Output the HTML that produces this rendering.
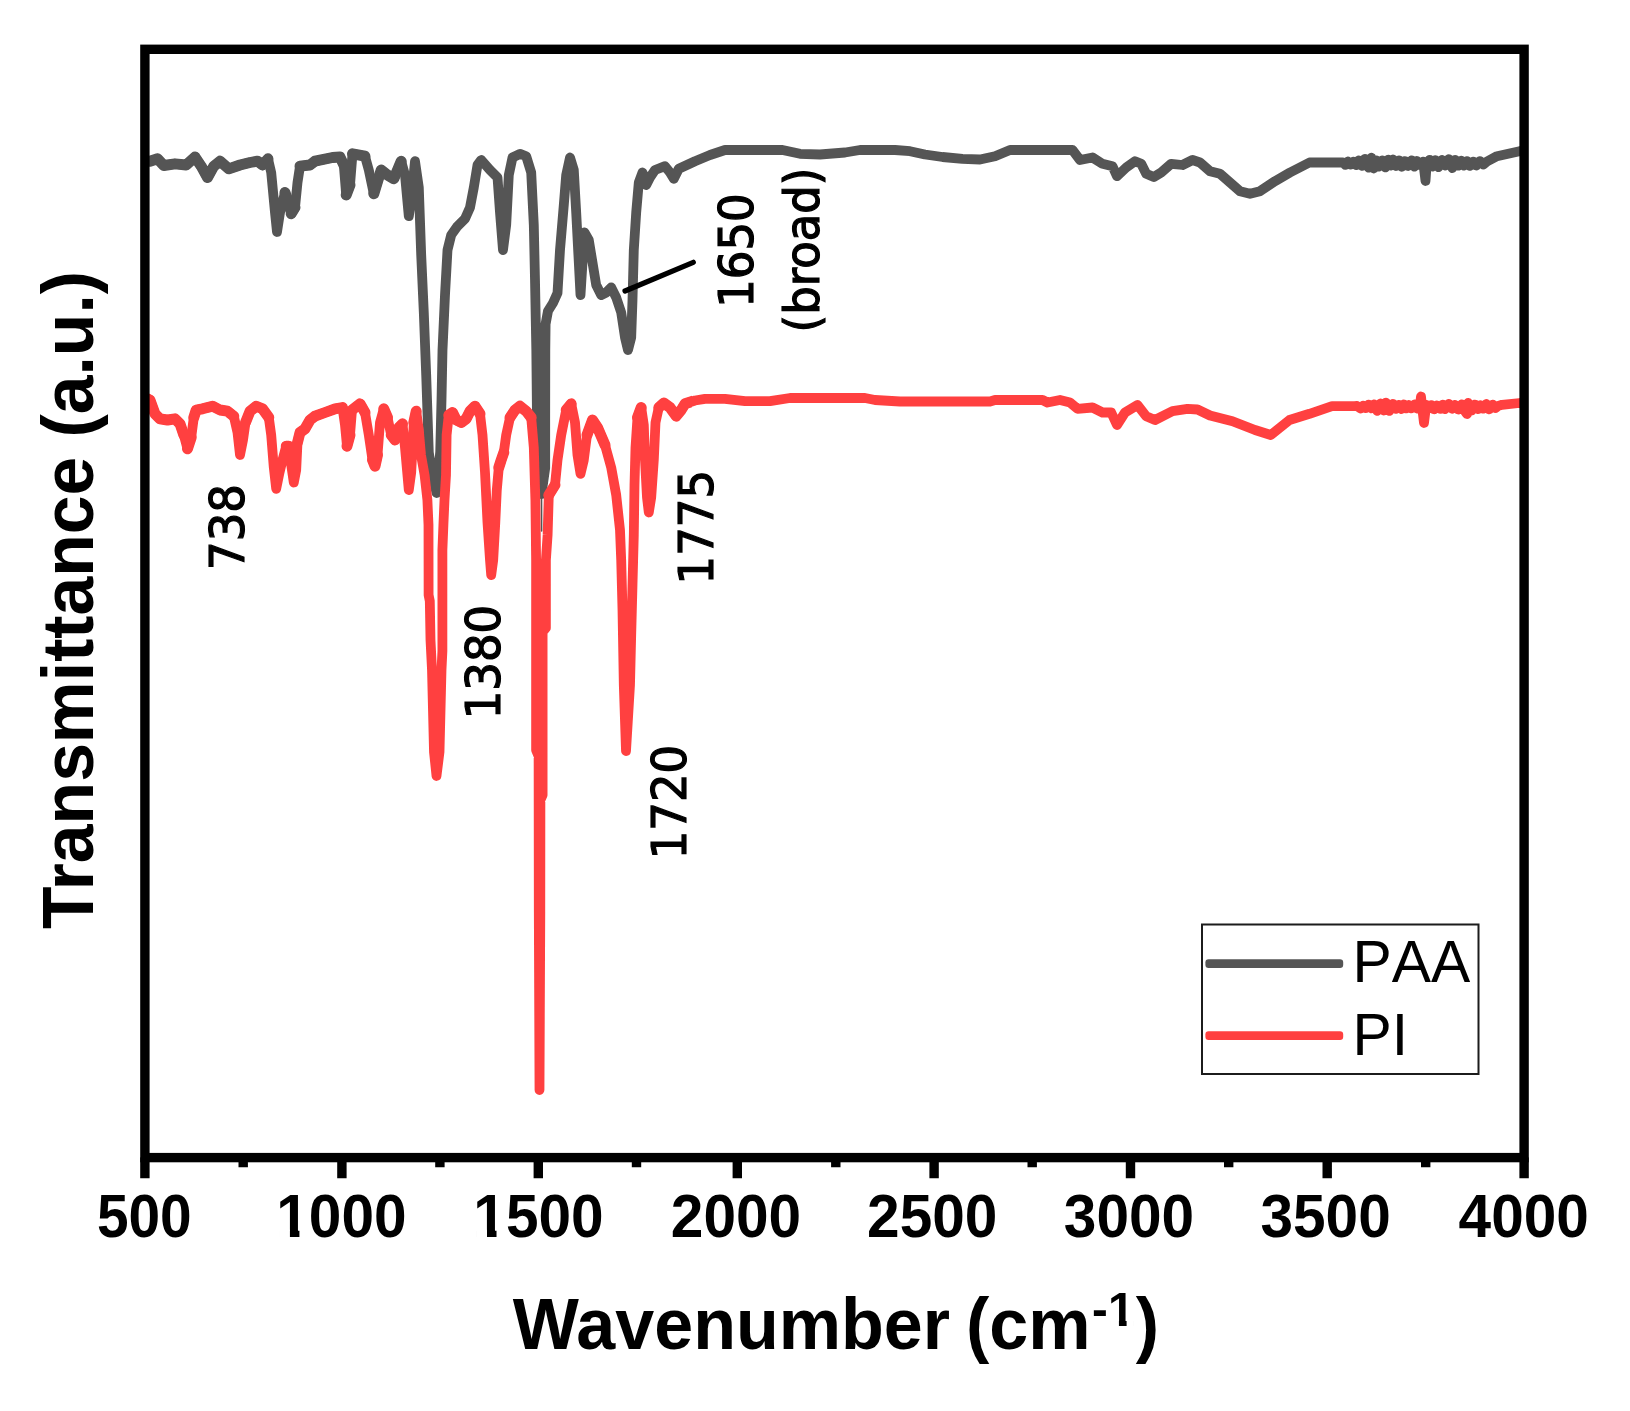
<!DOCTYPE html>
<html><head><meta charset="utf-8"><title>FTIR</title>
<style>html,body{margin:0;padding:0;background:#fff}svg{display:block}.b{font-family:"Liberation Sans",sans-serif;font-weight:bold;fill:#000}.r{font-family:"Liberation Sans",sans-serif;fill:#000}.d{font-family:"DejaVu Sans Condensed","DejaVu Sans",sans-serif;font-stretch:condensed;fill:#000;stroke:#000;stroke-width:1.15px}</style></head><body>
<svg width="1630" height="1411" viewBox="0 0 1630 1411">
<rect width="1630" height="1411" fill="#fff"/>
<defs><filter id="soft" x="0" y="0" width="1630" height="1411" filterUnits="userSpaceOnUse"><feGaussianBlur stdDeviation="0.6"/></filter></defs>
<g filter="url(#soft)">
<rect width="1630" height="1411" fill="#fff"/>
<defs><clipPath id="c3"><rect x="144.9" y="49.3" width="279.1" height="1108.3"/></clipPath></defs>
<defs><clipPath id="c2"><rect x="144.9" y="49.3" width="547.1" height="1108.3"/></clipPath></defs>
<defs><clipPath id="c"><rect x="144.9" y="49.3" width="1379.2" height="1108.3"/></clipPath></defs>
<g clip-path="url(#c)" fill="none" stroke-linejoin="round" stroke-linecap="round">
<polyline stroke="#555555" stroke-width="9.8" points="140.0,161.0 150.0,161.2 157.5,158.8 163.8,165.5 175.0,163.8 186.2,165.0 195.0,157.0 201.2,166.2 207.5,177.5 213.8,166.2 220.0,161.2 228.8,168.8 240.0,165.0 250.0,162.5 257.5,161.2 262.5,165.0 268.0,158.8 271.2,172.5 275.0,212.5 277.0,232.0 280.0,212.5 285.0,192.5 287.5,200.0 291.2,213.8 295.0,207.5 297.5,182.5 300.0,166.2 310.0,165.0 315.0,161.2 332.5,157.5 340.0,157.0 343.8,165.0 346.2,195.0 350.0,185.0 352.5,153.8 365.0,156.2 368.8,170.0 373.8,193.8 378.8,177.5 381.2,170.0 387.5,175.0 393.8,178.8 401.2,161.2 405.0,175.0 408.8,216.2 411.2,200.0 415.0,161.2 418.8,187.5 421.2,255.0 423.8,312.5 426.2,375.0 428.8,452.5 431.5,470.0 436.5,493.0 440.2,452.0 441.5,400.0 442.5,350.0 445.0,295.0 447.5,250.0 451.2,235.0 457.5,226.2 465.0,218.8 470.0,207.5 473.8,187.5 477.5,165.0 481.2,160.0 490.0,170.0 497.5,177.5 500.0,212.5 503.0,250.0 506.2,225.0 508.8,175.0 512.5,157.5 520.0,153.8 526.2,156.2 531.2,172.5 533.8,225.0 535.0,280.0 536.3,350.0 537.0,420.0 537.6,468.0 541.5,494.0 545.2,468.0 545.2,420.0 545.3,350.0 545.6,324.0 548.0,311.0 553.0,303.0 557.5,293.0 560.0,250.0 563.8,205.0 566.2,175.0 570.0,157.5 573.8,170.0 576.2,212.5 578.8,262.5 580.5,295.0 582.5,262.5 584.5,232.5 588.8,240.0 592.5,262.5 596.2,285.0 601.2,295.0 606.2,292.5 611.2,287.5 616.2,297.5 621.2,312.5 625.0,337.5 628.0,350.0 631.2,337.5 632.5,300.0 633.8,250.0 636.2,212.5 638.8,182.5 642.5,172.5 646.2,185.0 650.0,177.5 655.0,170.0 665.0,166.2 670.0,172.5 673.8,178.8 678.8,168.8 695.0,161.2 710.0,155.0 725.0,150.0 745.0,150.0 782.5,150.0 800.0,153.8 820.0,154.5 845.0,152.5 860.0,150.0 895.0,150.0 910.0,151.2 925.0,154.5 942.5,157.0 962.5,158.8 980.0,159.5 995.0,156.2 1010.0,150.0 1072.5,150.0 1080.0,160.0 1092.5,157.5 1102.5,163.8 1112.5,166.2 1117.0,176.2 1126.2,167.5 1135.0,161.2 1141.2,163.8 1146.2,173.8 1153.8,177.0 1161.2,172.5 1171.2,163.8 1182.5,165.0 1192.5,160.0 1200.0,162.5 1210.0,171.2 1220.0,173.8 1230.0,182.5 1240.0,191.2 1250.0,193.8 1260.0,191.2 1275.0,181.2 1290.0,172.5 1309.5,162.5 1340.0,162.5 1343.0,162.3 1345.4,164.9 1347.8,161.5 1350.5,164.7 1353.6,161.7 1356.4,165.2 1358.8,160.3 1362.3,165.9 1364.9,158.9 1368.6,167.7 1371.4,157.7 1373.7,168.5 1376.4,160.3 1378.8,166.7 1382.3,160.4 1385.4,167.4 1388.2,159.6 1390.5,165.6 1393.0,159.5 1395.9,166.0 1399.0,160.4 1401.7,166.8 1405.0,161.1 1408.2,166.0 1411.8,160.3 1414.4,166.7 1416.8,161.0 1420.2,165.2 1423.2,161.6 1425.5,181.0 1426.5,166.5 1429.6,159.8 1432.3,166.6 1435.4,160.1 1438.4,167.2 1442.1,160.0 1445.3,165.6 1448.7,159.2 1452.4,168.1 1455.1,159.8 1458.4,165.7 1461.3,160.7 1463.7,165.5 1467.1,161.1 1469.7,165.9 1473.3,161.6 1476.2,165.5 1479.9,161.1 1483.4,164.5 1487.0,161.5 1497.0,156.2 1519.5,151.2 1530.0,150.0"/>
<path clip-path="url(#c3)" stroke="#555555" stroke-width="10.9" d="M140.0 161.0L150.0 161.2L157.5 158.8L163.8 165.5L175.0 163.8L186.2 165.0L195.0 157.0L201.2 166.2L207.5 177.5L213.8 166.2L220.0 161.2L228.8 168.8L240.0 165.0L250.0 162.5L257.5 161.2L262.5 165.0L268.0 158.8M285.0 192.5L287.5 200.0M291.2 213.8L295.0 207.5M300.0 166.2L310.0 165.0L315.0 161.2L332.5 157.5L340.0 157.0L343.8 165.0M346.2 195.0L350.0 185.0M352.5 153.8L365.0 156.2M373.8 193.8L378.8 177.5L381.2 170.0L387.5 175.0L393.8 178.8L401.2 161.2M451.2 235.0L457.5 226.2L465.0 218.8L470.0 207.5M477.5 165.0L481.2 160.0L490.0 170.0L497.5 177.5M512.5 157.5L520.0 153.8L526.2 156.2L531.2 172.5M570.0 157.5L573.8 170.0M638.8 182.5L642.5 172.5L646.2 185.0L650.0 177.5L655.0 170.0L665.0 166.2L670.0 172.5L673.8 178.8L678.8 168.8L695.0 161.2L710.0 155.0L725.0 150.0L745.0 150.0L782.5 150.0L800.0 153.8L820.0 154.5L845.0 152.5L860.0 150.0L895.0 150.0L910.0 151.2L925.0 154.5L942.5 157.0L962.5 158.8L980.0 159.5L995.0 156.2L1010.0 150.0L1072.5 150.0L1080.0 160.0L1092.5 157.5L1102.5 163.8L1112.5 166.2L1117.0 176.2L1126.2 167.5L1135.0 161.2L1141.2 163.8L1146.2 173.8L1153.8 177.0L1161.2 172.5L1171.2 163.8L1182.5 165.0L1192.5 160.0L1200.0 162.5L1210.0 171.2L1220.0 173.8L1230.0 182.5L1240.0 191.2L1250.0 193.8L1260.0 191.2L1275.0 181.2L1290.0 172.5L1309.5 162.5L1340.0 162.5L1343.0 162.3L1345.4 164.9L1347.8 161.5L1350.5 164.7L1353.6 161.7L1356.4 165.2L1358.8 160.3L1362.3 165.9L1364.9 158.9L1368.6 167.7L1371.4 157.7L1373.7 168.5L1376.4 160.3L1378.8 166.7L1382.3 160.4L1385.4 167.4L1388.2 159.6L1390.5 165.6L1393.0 159.5L1395.9 166.0L1399.0 160.4L1401.7 166.8L1405.0 161.1L1408.2 166.0L1411.8 160.3L1414.4 166.7L1416.8 161.0L1420.2 165.2L1423.2 161.6M1426.5 166.5L1429.6 159.8L1432.3 166.6L1435.4 160.1L1438.4 167.2L1442.1 160.0L1445.3 165.6L1448.7 159.2L1452.4 168.1L1455.1 159.8L1458.4 165.7L1461.3 160.7L1463.7 165.5L1467.1 161.1L1469.7 165.9L1473.3 161.6L1476.2 165.5L1479.9 161.1L1483.4 164.5L1487.0 161.5L1497.0 156.2L1519.5 151.2L1530.0 150.0"/>
<line x1="541.5" y1="495" x2="541.6" y2="531" stroke="#555555" stroke-width="1.6"/>
<polyline stroke="#ff4040" stroke-width="9.8" points="140.0,395.0 150.0,400.0 155.0,413.8 160.0,418.8 167.5,420.0 175.0,418.8 180.0,423.8 183.8,435.0 187.5,448.8 191.2,437.5 193.8,417.5 196.2,410.0 202.5,408.8 212.5,406.2 220.0,410.0 227.5,411.2 233.8,416.2 237.5,432.5 240.0,455.0 243.0,440.0 245.5,422.5 250.0,411.2 256.2,406.2 262.5,408.8 268.8,417.5 271.2,435.0 273.8,467.5 276.2,488.8 279.5,472.5 282.5,460.0 286.2,446.2 288.8,446.2 291.2,465.0 293.8,482.5 296.2,470.0 297.5,442.5 300.0,432.5 305.0,428.8 310.0,420.0 315.0,416.2 325.0,412.5 335.0,408.8 342.5,407.5 345.0,425.0 347.0,446.2 350.0,435.0 352.0,410.0 360.0,403.8 365.0,412.5 368.8,435.0 372.5,460.0 375.0,466.2 377.5,455.0 380.0,422.5 383.8,408.8 387.5,417.5 391.2,435.0 395.0,440.0 398.8,427.5 402.5,423.8 405.0,447.5 408.8,490.0 411.2,472.5 413.8,422.5 416.2,411.2 418.8,430.0 421.0,455.0 424.6,475.0 427.4,500.0 428.5,525.0 428.6,595.0 429.8,601.0 430.5,640.0 432.0,670.0 434.0,752.0 436.5,776.0 439.5,752.0 441.5,670.0 442.4,651.0 442.4,550.0 443.4,525.0 444.5,500.0 446.0,475.0 446.6,435.0 448.8,415.0 452.5,412.5 456.2,420.0 461.2,422.5 466.2,418.8 470.0,411.2 475.0,406.2 480.0,413.8 482.5,435.0 485.0,472.5 487.5,522.5 490.0,560.0 491.2,575.0 493.2,560.0 495.3,522.5 496.8,490.0 498.8,467.5 501.2,460.0 503.8,452.5 506.2,435.0 510.0,417.5 515.0,410.0 520.0,406.2 526.2,411.2 531.2,417.5 533.8,447.5 535.4,500.0 536.1,560.0 536.1,750.0 538.6,756.0 538.8,912.0 539.5,1090.0 540.3,912.0 540.4,800.0 542.6,795.0 542.6,632.0 545.9,628.0 545.9,560.0 547.6,535.0 548.8,495.0 555.0,485.0 557.5,460.0 561.2,435.0 566.2,410.0 571.2,403.8 575.0,422.5 577.5,455.0 580.5,473.8 583.8,460.0 587.0,435.0 592.5,420.0 597.5,427.5 605.0,445.0 611.2,467.5 616.2,495.0 620.0,530.0 621.2,560.0 622.5,610.0 623.8,685.0 626.0,751.0 630.0,685.0 631.2,635.0 632.5,585.0 633.8,535.0 634.5,485.0 635.5,447.5 637.5,417.5 641.2,407.5 643.8,425.0 645.0,460.0 647.0,497.5 648.8,512.5 651.2,497.5 653.8,460.0 655.5,422.5 658.8,407.5 663.8,403.0 670.0,407.5 676.2,416.2 681.2,410.0 685.0,403.8 695.0,400.5 705.0,398.8 725.0,398.8 745.0,401.2 770.0,401.2 790.0,398.0 820.0,398.0 865.0,398.0 875.0,400.0 900.0,401.5 990.0,401.5 995.0,400.0 1042.5,400.0 1047.5,402.5 1060.0,400.0 1070.0,402.5 1077.5,408.8 1092.5,407.5 1102.5,412.5 1111.2,412.5 1117.0,425.0 1125.0,412.5 1137.5,405.0 1146.2,416.2 1155.0,420.0 1172.5,411.2 1187.5,408.8 1197.5,409.5 1210.0,415.5 1232.5,421.2 1255.0,430.0 1270.8,435.0 1289.5,420.0 1309.5,413.8 1332.0,406.2 1354.5,406.2 1357.0,406.0 1360.6,408.5 1363.1,405.7 1365.6,408.2 1368.6,404.6 1371.2,408.3 1374.1,404.4 1377.2,410.8 1380.5,403.5 1383.7,410.5 1386.0,402.6 1389.4,410.9 1392.9,403.9 1395.7,408.9 1399.0,404.8 1401.3,409.0 1403.7,404.4 1406.0,408.4 1408.5,405.0 1411.2,408.4 1414.8,404.3 1417.3,408.6 1420.0,404.9 1421.0,396.5 1422.4,409.4 1424.0,423.0 1426.2,404.9 1429.2,408.1 1431.5,405.1 1434.2,409.3 1436.6,405.5 1440.4,408.9 1442.8,404.6 1445.0,409.0 1448.8,403.9 1452.1,408.8 1454.9,404.9 1458.3,409.5 1461.8,404.4 1464.3,410.4 1467.0,414.0 1468.1,403.0 1471.6,410.5 1475.0,404.6 1478.0,409.1 1480.3,405.2 1482.9,408.7 1486.2,404.0 1489.1,409.3 1492.9,404.7 1495.7,407.9 1498.3,405.9 1502.0,404.8 1519.5,403.0 1530.0,403.0"/>
<path clip-path="url(#c2)" stroke="#ff4040" stroke-width="10.9" d="M140.0 395.0L150.0 400.0L155.0 413.8L160.0 418.8L167.5 420.0L175.0 418.8L180.0 423.8L183.8 435.0M187.5 448.8L191.2 437.5M193.8 417.5L196.2 410.0L202.5 408.8L212.5 406.2L220.0 410.0L227.5 411.2L233.8 416.2M245.5 422.5L250.0 411.2L256.2 406.2L262.5 408.8L268.8 417.5M286.2 446.2L288.8 446.2M297.5 442.5L300.0 432.5L305.0 428.8L310.0 420.0L315.0 416.2L325.0 412.5L335.0 408.8L342.5 407.5M347.0 446.2L350.0 435.0M352.0 410.0L360.0 403.8L365.0 412.5M372.5 460.0L375.0 466.2L377.5 455.0M383.8 408.8L387.5 417.5M391.2 435.0L395.0 440.0L398.8 427.5L402.5 423.8M413.8 422.5L416.2 411.2M448.8 415.0L452.5 412.5L456.2 420.0L461.2 422.5L466.2 418.8L470.0 411.2L475.0 406.2L480.0 413.8M498.8 467.5L501.2 460.0L503.8 452.5M510.0 417.5L515.0 410.0L520.0 406.2L526.2 411.2L531.2 417.5M548.8 495.0L555.0 485.0M566.2 410.0L571.2 403.8M587.0 435.0L592.5 420.0L597.5 427.5L605.0 445.0M637.5 417.5L641.2 407.5M658.8 407.5L663.8 403.0L670.0 407.5L676.2 416.2L681.2 410.0L685.0 403.8L695.0 400.5L705.0 398.8L725.0 398.8L745.0 401.2L770.0 401.2L790.0 398.0L820.0 398.0L865.0 398.0L875.0 400.0L900.0 401.5L990.0 401.5L995.0 400.0L1042.5 400.0L1047.5 402.5L1060.0 400.0L1070.0 402.5L1077.5 408.8L1092.5 407.5L1102.5 412.5L1111.2 412.5L1117.0 425.0L1125.0 412.5L1137.5 405.0L1146.2 416.2L1155.0 420.0L1172.5 411.2L1187.5 408.8L1197.5 409.5L1210.0 415.5L1232.5 421.2L1255.0 430.0L1270.8 435.0L1289.5 420.0L1309.5 413.8L1332.0 406.2L1354.5 406.2L1357.0 406.0L1360.6 408.5L1363.1 405.7L1365.6 408.2L1368.6 404.6L1371.2 408.3L1374.1 404.4L1377.2 410.8L1380.5 403.5L1383.7 410.5L1386.0 402.6L1389.4 410.9L1392.9 403.9L1395.7 408.9L1399.0 404.8L1401.3 409.0L1403.7 404.4L1406.0 408.4L1408.5 405.0L1411.2 408.4L1414.8 404.3L1417.3 408.6L1420.0 404.9L1421.0 396.5M1426.2 404.9L1429.2 408.1L1431.5 405.1L1434.2 409.3L1436.6 405.5L1440.4 408.9L1442.8 404.6L1445.0 409.0L1448.8 403.9L1452.1 408.8L1454.9 404.9L1458.3 409.5L1461.8 404.4L1464.3 410.4L1467.0 414.0L1468.1 403.0L1471.6 410.5L1475.0 404.6L1478.0 409.1L1480.3 405.2L1482.9 408.7L1486.2 404.0L1489.1 409.3L1492.9 404.7L1495.7 407.9L1498.3 405.9L1502.0 404.8L1519.5 403.0L1530.0 403.0"/>
</g>
<rect x="144.9" y="49.3" width="1379.2" height="1108.3" fill="none" stroke="#000" stroke-width="9.4"/>
<path d="M144.9 1157.6V1178.2M341.9 1157.6V1178.2M538.3 1157.6V1178.2M737.3 1157.6V1178.2M934.1 1157.6V1178.2M1130.5 1157.6V1178.2M1327.2 1157.6V1178.2M1524.1 1157.6V1178.2M243.2 1157.6V1167.2M439.9 1157.6V1167.2M636.5 1157.6V1167.2M835.8 1157.6V1167.2M1032.2 1157.6V1167.2M1228.7 1157.6V1167.2M1425.7 1157.6V1167.2" stroke="#000" stroke-width="9.4" fill="none"/>
<g transform="translate(144.3,1237) scale(0.980,1.05)"><text class="b" font-size="58" text-anchor="middle">500</text>
</g>
<g transform="translate(341.4,1237) scale(1.010,1.05)"><text class="b" font-size="58" text-anchor="middle">1000</text>
<rect x="-61.68" y="-6.94" width="10.71" height="8.40" fill="#fff"/>
<rect x="-41.57" y="-6.94" width="8.50" height="8.40" fill="#fff"/>
</g>
<g transform="translate(538.5,1237) scale(1.010,1.05)"><text class="b" font-size="58" text-anchor="middle">1500</text>
<rect x="-61.68" y="-6.94" width="10.71" height="8.40" fill="#fff"/>
<rect x="-41.57" y="-6.94" width="8.50" height="8.40" fill="#fff"/>
</g>
<g transform="translate(736.0,1237) scale(1.010,1.05)"><text class="b" font-size="58" text-anchor="middle">2000</text>
</g>
<g transform="translate(932.2,1237) scale(1.010,1.05)"><text class="b" font-size="58" text-anchor="middle">2500</text>
</g>
<g transform="translate(1129.0,1237) scale(1.010,1.05)"><text class="b" font-size="58" text-anchor="middle">3000</text>
</g>
<g transform="translate(1325.6,1237) scale(1.010,1.05)"><text class="b" font-size="58" text-anchor="middle">3500</text>
</g>
<g transform="translate(1523.7,1237) scale(1.010,1.05)"><text class="b" font-size="58" text-anchor="middle">4000</text>
</g>
<g transform="translate(512.7,1348.7) scale(0.987,1.02)"><text class="b" font-size="71">Wavenumber<tspan dx="-3.6"> (cm</tspan><tspan font-size="48" dy="-22.5" dx="1.5">-1</tspan><tspan dy="22.5" dx="1.5">)</tspan></text>
<rect x="605.35" y="-28.24" width="8.86" height="7.20" fill="#fff"/>
<rect x="621.99" y="-28.24" width="7.03" height="7.20" fill="#fff"/>
</g>
<text class="b" transform="translate(93.0,600) rotate(-90) scale(0.981,1.012)" font-size="71" text-anchor="middle">Transmittance (a.u.)</text>
<line x1="625" y1="291" x2="693.3" y2="262.3" stroke="#000" stroke-width="5.2" stroke-linecap="round"/>
<text class="d" transform="translate(244.0,527.0) rotate(-90) scale(1.06,1)" font-size="47.2" text-anchor="middle">738</text>
<text class="d" transform="translate(500.3,662.0) rotate(-90) scale(1.06,1)" font-size="47.2" text-anchor="middle">1380</text>
<text class="d" transform="translate(685.5,802.0) rotate(-90) scale(1.06,1)" font-size="47.2" text-anchor="middle">1720</text>
<text class="d" transform="translate(713.4,527.2) rotate(-90) scale(1.06,1)" font-size="47.2" text-anchor="middle">1775</text>
<text class="d" transform="translate(753.2,250.6) rotate(-90) scale(1.06,1)" font-size="47.2" text-anchor="middle">1650</text>
<text class="d" transform="translate(818.8,250.0) rotate(-90) scale(1.06,1)" font-size="47.2" text-anchor="middle">(broad)</text>
<rect x="1202" y="924.5" width="276.5" height="149.5" fill="#fff" stroke="#1a1a1a" stroke-width="2"/>
<rect x="1205.4" y="959.2" width="137.8" height="8.8" rx="3.2" fill="#555555"/>
<rect x="1205.4" y="1031.2" width="137.8" height="8.8" rx="3.2" fill="#ff4040"/>
<text class="r" transform="translate(1352.5,981.5) scale(1.015,1.035)" font-size="58" style="font-kerning:none">PAA</text>
<text class="r" transform="translate(1352.5,1055) scale(1.015,1.035)" font-size="58" style="font-kerning:none">PI</text>
</g>
</svg></body></html>
